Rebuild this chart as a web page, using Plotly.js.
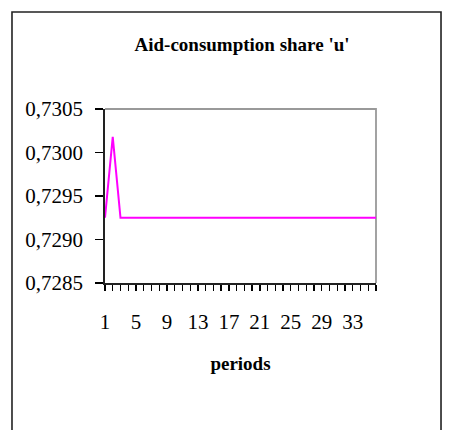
<!DOCTYPE html>
<html>
<head>
<meta charset="utf-8">
<script src="https://cdn.plot.ly/plotly-3.0.1.min.js"></script>
<style>
  html, body { margin: 0; padding: 0; background: #fff; }
  #chart { width: 460px; height: 430px; }
</style>
</head>
<body>
<div id="chart"></div>
<script>
// Data
const periods = [1,2,3,4,5,6,7,8,9,10,11,12,13,14,15,16,17,18,19,20,21,22,23,24,25,26,27,28,29,30,31,32,33,34,35,36];
const shareU = [0.72925,0.73018,0.72925,0.72925,0.72925,0.72925,0.72925,0.72925,0.72925,0.72925,
                0.72925,0.72925,0.72925,0.72925,0.72925,0.72925,0.72925,0.72925,0.72925,0.72925,
                0.72925,0.72925,0.72925,0.72925,0.72925,0.72925,0.72925,0.72925,0.72925,0.72925,
                0.72925,0.72925,0.72925,0.72925,0.72925,0.72925];
const titleText = "Aid-consumption share 'u'";
const xTitleText = "periods";
const yRange = [0.7285, 0.7305];

const serif = "'Liberation Serif', 'Times New Roman', serif";

const trace = {
  x: periods,
  y: shareU,
  type: 'scatter',
  mode: 'lines',
  line: { color: '#FF00FF', width: 2 },
  hoverinfo: 'skip'
};

const layout = {
  width: 460,
  height: 430,
  margin: { l: 105, r: 84, t: 109, b: 147, pad: 0 },
  paper_bgcolor: '#ffffff',
  plot_bgcolor: '#ffffff',
  showlegend: false,
  separators: ', ',
  font: { family: serif, size: 21, color: '#000' },
  title: {
    text: '<b>' + titleText + '</b>',
    font: { family: serif, size: 19, color: '#000' },
    x: 242 / 460, xref: 'container', xanchor: 'center',
    y: 1 - 44 / 430, yref: 'container', yanchor: 'middle'
  },
  xaxis: {
    range: [1, 36],
    tickmode: 'linear', tick0: 1, dtick: 4,
    ticks: 'outside', ticklen: 6, tickwidth: 1.3, tickcolor: '#000',
    minor: { tickmode: 'linear', tick0: 1, dtick: 1, ticks: 'outside', ticklen: 6, tickwidth: 1.3, tickcolor: '#000', showgrid: false },
    showline: true, linecolor: '#222', linewidth: 1.8,
    showgrid: false, zeroline: false,
    tickfont: { family: serif, size: 21, color: '#000' },
    ticklabelstandoff: 13,
    title: { text: '<b>' + xTitleText + '</b>', font: { family: serif, size: 19, color: '#000' }, standoff: 24 },
    fixedrange: true
  },
  yaxis: {
    range: yRange,
    tickmode: 'linear', tick0: 0.7285, dtick: 0.0005,
    tickformat: '.4f',
    ticks: 'outside', ticklen: 8, tickwidth: 1.3, tickcolor: '#000',
    showline: true, linecolor: '#222', linewidth: 1.8,
    showgrid: false, zeroline: false,
    tickfont: { family: serif, size: 21, color: '#000' },
    ticklabelstandoff: 8,
    fixedrange: true
  },
  shapes: [
    // grey top and right frame of plot area
    { type: 'path', xref: 'paper', yref: 'paper',
      path: 'M 0 1 L 1 1 L 1 0', line: { color: '#999', width: 1.8 }, layer: 'below' },
    // outer chart border
    { type: 'path', xref: 'paper', yref: 'paper',
      path: 'M -0.3432 -1 L -0.3432 1.5575 L 1.2399 1.5575 L 1.2399 -1', line: { color: '#222', width: 1.6 } }
  ]
};

Plotly.newPlot('chart', [trace], layout, { displayModeBar: false, staticPlot: true });
</script>
</body>
</html>
